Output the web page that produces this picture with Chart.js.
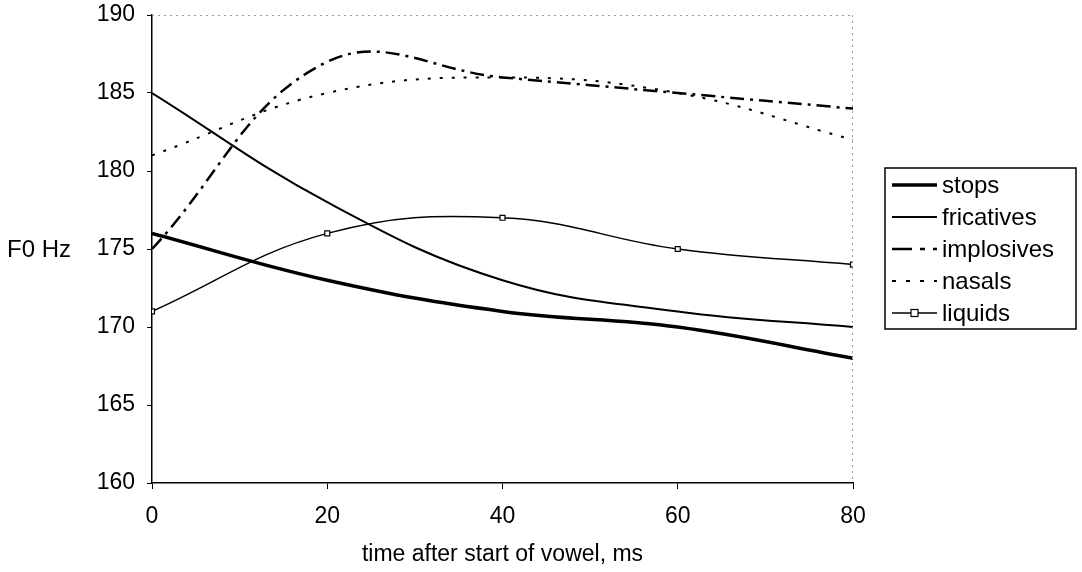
<!DOCTYPE html>
<html>
<head>
<meta charset="utf-8">
<script src="https://cdn.jsdelivr.net/npm/chart.js@4"></script>
<style>
  html, body { margin: 0; padding: 0; background: #fff; }
  #wrap { width: 1082px; height: 572px; }
</style>
</head>
<body>
<div id="wrap"><canvas id="f0chart"></canvas></div>
<script>
// time after start of vowel (ms)
const times = [0, 20, 40, 60, 80];
const stops = [176, 173, 171, 170, 168];
const fricatives = [185, 178, 173, 171, 170];
const implosives = [175, 187, 186, 185, 184];
const nasals = [181, 185, 186, 185, 182];
const liquids = [171, 176, 177, 175, 174];
const yTicks = [160, 165, 170, 175, 180, 185, 190];
const xTicks = [0, 20, 40, 60, 80];

const FONT = "'Liberation Sans', Arial, sans-serif";

function pts(arr) {
  return times.map((t, i) => ({ x: t, y: arr[i] }));
}

// legend + y title + dotted frame drawn by hand
const extras = {
  id: 'extras',
  afterDraw(chart) {
    const ctx = chart.ctx;
    const a = chart.chartArea;
    ctx.save();
    // faint dotted top and right borders
    ctx.strokeStyle = '#999';
    ctx.lineWidth = 1;
    ctx.setLineDash([2, 4]);
    ctx.beginPath();
    ctx.moveTo(a.left, a.top + 0.5);
    ctx.lineTo(a.right, a.top + 0.5);
    ctx.moveTo(a.right - 0.5, a.top);
    ctx.lineTo(a.right - 0.5, a.bottom);
    ctx.stroke();
    ctx.setLineDash([]);

    // y axis title, horizontal
    ctx.fillStyle = '#000';
    ctx.font = '24px ' + FONT;
    ctx.textBaseline = 'middle';
    ctx.textAlign = 'left';
    ctx.fillText('F0 Hz', 7, chart.scales.y.getPixelForValue(175) + 1);

    // legend box
    const bx = 885, by = 168, bw = 191, bh = 161;
    ctx.strokeStyle = '#000';
    ctx.lineWidth = 1.5;
    ctx.strokeRect(bx, by, bw, bh);
    chart.data.datasets.forEach((ds, i) => {
      const y = 185 + 32 * i;
      ctx.strokeStyle = '#000';
      ctx.lineWidth = ds.borderWidth;
      ctx.setLineDash(ds.legendDash || []);
      ctx.beginPath();
      ctx.moveTo(892, y);
      ctx.lineTo(937, y);
      ctx.stroke();
      ctx.setLineDash([]);
      if (ds.pointRadius > 0) {
        ctx.fillStyle = '#fff';
        ctx.lineWidth = 1.2;
        ctx.fillRect(911, y - 3.5, 7, 7);
        ctx.strokeRect(911, y - 3.5, 7, 7);
      }
      ctx.fillStyle = '#000';
      ctx.font = '24px ' + FONT;
      ctx.fillText(ds.label, 942, y + 1);
    });
    ctx.restore();
  }
};

new Chart(document.getElementById('f0chart'), {
  type: 'line',
  data: {
    datasets: [
      { label: 'stops', data: pts(stops), borderColor: '#000', borderWidth: 3.5, pointRadius: 0, tension: 0.4 },
      { label: 'fricatives', data: pts(fricatives), borderColor: '#000', borderWidth: 2, pointRadius: 0, tension: 0.4 },
      { label: 'implosives', data: pts(implosives), borderColor: '#000', borderWidth: 2.5, borderDash: [14, 6, 3, 6],
        legendDash: [20, 8, 5, 8], pointRadius: 0, tension: 0.4 },
      { label: 'nasals', data: pts(nasals), borderColor: '#000', borderWidth: 2, borderDash: [3, 9],
        legendDash: [4, 10], pointRadius: 0, tension: 0.4 },
      { label: 'liquids', data: pts(liquids), borderColor: '#000', borderWidth: 1.5, pointRadius: 3.5, pointStyle: 'rect',
        pointBackgroundColor: '#fff', pointBorderColor: '#000', pointBorderWidth: 1.2, tension: 0.4 }
    ]
  },
  options: {
    responsive: true,
    maintainAspectRatio: false,
    animation: false,
    layout: { padding: { left: 0, right: 229, top: 15, bottom: 0 } },
    plugins: { legend: { display: false }, tooltip: { enabled: false } },
    scales: {
      x: {
        type: 'linear',
        min: 0, max: 80,
        afterBuildTicks: s => { s.ticks = xTicks.map(v => ({ value: v })); },
        afterFit: s => { s.height = 89; s.paddingLeft = 0; s.paddingRight = 0; },
        grid: { display: true, drawOnChartArea: false, color: '#000', tickLength: 6 },
        border: { display: true, color: '#000', width: 1.5 },
        ticks: { color: '#000', font: { family: FONT, size: 23 }, padding: 14, maxRotation: 0 },
        title: { display: true, text: 'time after start of vowel, ms', color: '#000', font: { family: FONT, size: 23 }, padding: { top: 10 } }
      },
      y: {
        min: 160, max: 190,
        afterBuildTicks: s => { s.ticks = yTicks.map(v => ({ value: v })); },
        afterFit: s => { s.width = 152; s.paddingTop = 0; s.paddingBottom = 0; },
        grid: { display: true, drawOnChartArea: false, color: '#000', tickLength: 5 },
        border: { display: true, color: '#000', width: 1.5 },
        ticks: { color: '#000', font: { family: FONT, size: 23 }, padding: 12 }
      }
    }
  },
  plugins: [extras]
});
</script>
</body>
</html>
